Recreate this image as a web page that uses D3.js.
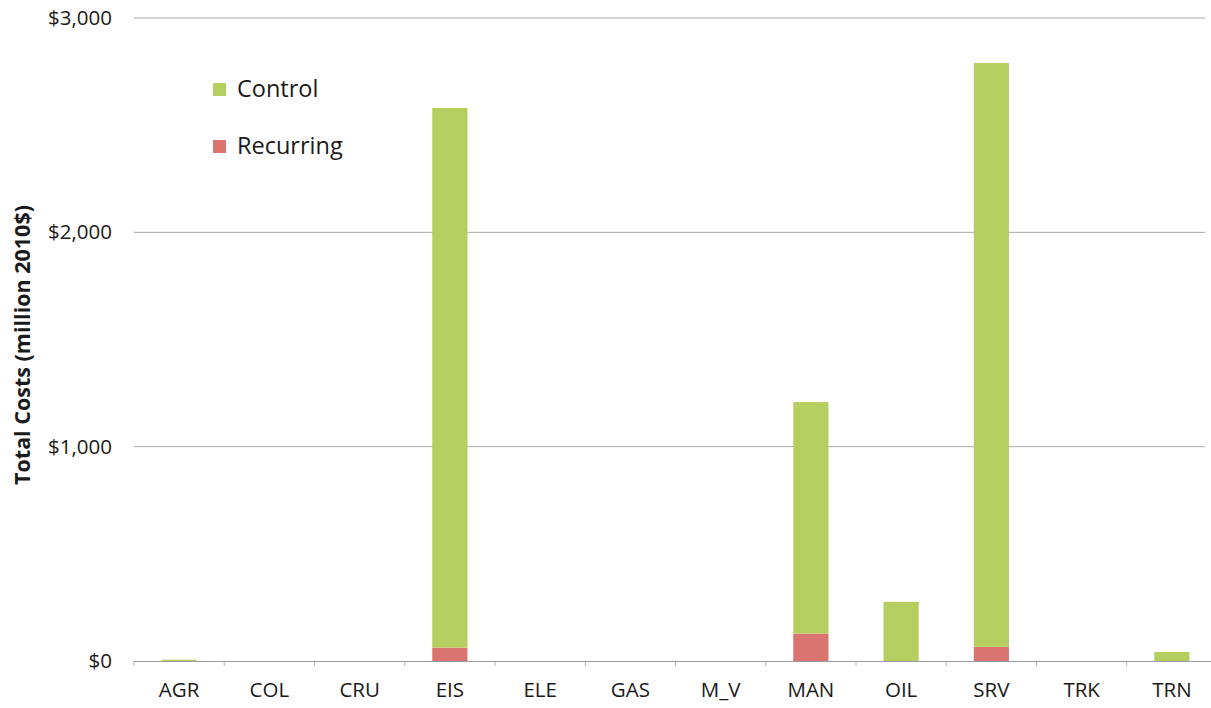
<!DOCTYPE html>
<html>
<head>
<meta charset="utf-8">
<script src="https://cdn.jsdelivr.net/npm/d3@7"></script>
<style>
  body { margin: 0; background: #fff; }
  svg { display: block; }
  text { font-family: "Open Sans", "Liberation Sans", sans-serif; }
</style>
</head>
<body>
<svg id="chart" width="1211" height="708"></svg>
<script>
const categories = ["AGR","COL","CRU","EIS","ELE","GAS","M_V","MAN","OIL","SRV","TRK","TRN"];
const recurring = [0, 0, 0, 62, 0, 0, 0, 128, 0, 66, 0, 0];
const control   = [6, 0, 0, 2518, 0, 0, 0, 1080, 276, 2724, 0, 42];
const yTicks = [0, 1000, 2000, 3000];
const seriesNames = ["Control", "Recurring"];
const colors = { Control: "#b6ce5f", Recurring: "#da7470" };

(function () {
const svg = d3.select("#chart");
const mLeft = 134, mRight = 1217, mTop = 18, mBottom = 661;

const x = d3.scaleBand().domain(categories).range([mLeft, mRight]).paddingInner(0.61).paddingOuter(0.305);
const y = d3.scaleLinear().domain([0, 3000]).range([mBottom, mTop]);

// gridlines
svg.append("g").selectAll("line").data(yTicks.filter(d => d > 0)).join("line")
  .attr("x1", mLeft).attr("x2", 1205)
  .attr("y1", d => y(d)).attr("y2", d => y(d))
  .attr("stroke", "#a9a9ad").attr("stroke-width", 1);

// stacked bars
const rows = categories.map((c, i) => ({ cat: c, Recurring: recurring[i], Control: control[i] }));
const stack = d3.stack().keys(["Recurring", "Control"])(rows);
svg.append("g").selectAll("g").data(stack).join("g")
  .attr("fill", s => colors[s.key])
  .selectAll("rect").data(s => s).join("rect")
  .attr("x", d => x(d.data.cat))
  .attr("width", x.bandwidth())
  .attr("y", d => y(d[1]))
  .attr("height", d => Math.max(0, y(d[0]) - y(d[1])));

// x axis
const xAxis = d3.axisBottom(x).tickSize(0).tickPadding(21);
const gx = svg.append("g").attr("transform", `translate(0,${mBottom})`).call(xAxis);
gx.select(".domain").remove();
gx.selectAll("text").attr("font-size", 20.5).attr("fill", "#1a1a1a");
svg.append("line").attr("x1", mLeft).attr("x2", 1211).attr("y1", mBottom + 0.5).attr("y2", mBottom + 0.5)
  .attr("stroke", "#9a9aa2").attr("stroke-width", 1);
// category boundary tick marks
svg.append("g").selectAll("line").data(categories).join("line")
  .attr("x1", d => x(d) - x.step() * x.paddingInner() / 2)
  .attr("x2", d => x(d) - x.step() * x.paddingInner() / 2)
  .attr("y1", mBottom).attr("y2", mBottom + 5)
  .attr("stroke", "#b0b0b6");

// y axis labels
const fmt = d => "$" + d3.format(",")(d);
const yAxis = d3.axisLeft(y).tickValues(yTicks).tickFormat(fmt).tickSize(0).tickPadding(22);
const gy = svg.append("g").attr("transform", `translate(${mLeft},0)`).call(yAxis);
gy.select(".domain").remove();
gy.selectAll("text").attr("font-size", 20.5).attr("fill", "#1a1a1a");

// y axis title
svg.append("text")
  .attr("transform", `translate(30,${345}) rotate(-90)`)
  .attr("text-anchor", "middle")
  .attr("font-size", 21.5).attr("font-weight", "bold").attr("fill", "#1a1a1a")
  .text("Total Costs (million 2010$)");

// legend
const legend = svg.append("g").attr("transform", "translate(213,83)");
seriesNames.forEach((name, i) => {
  const g = legend.append("g").attr("transform", `translate(0,${i * 57})`);
  g.append("rect").attr("width", 13).attr("height", 13).attr("fill", colors[name]);
  g.append("text").attr("x", 24).attr("y", 14).attr("font-size", 23.5).attr("fill", "#1a1a1a").text(name);
});
})();
</script>
</body>
</html>
